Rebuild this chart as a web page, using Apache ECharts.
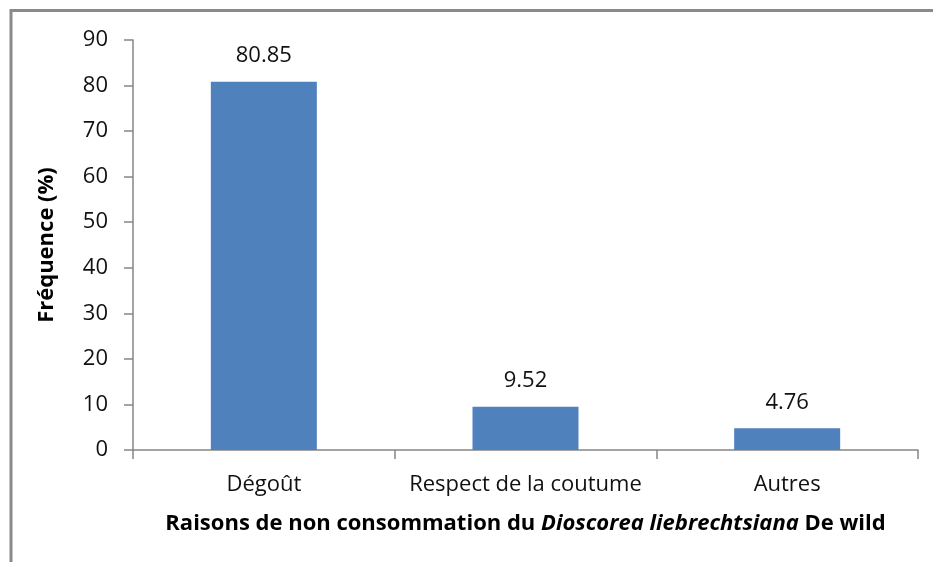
<!DOCTYPE html>
<html>
<head>
<meta charset="utf-8">
<script src="https://cdn.jsdelivr.net/npm/echarts@6/dist/echarts.min.js"></script>
<style>
html,body{margin:0;padding:0;background:#fff;}
#chart{width:933px;height:562px;}
</style>
</head>
<body>
<div id="chart"></div>
<script>
const categories = ['Dégoût', 'Respect de la coutume', 'Autres'];
const frequencies = [80.85, 9.52, 4.76];
const yTicks = [0, 10, 20, 30, 40, 50, 60, 70, 80, 90];

const chart = echarts.init(document.getElementById('chart'), null, {renderer: 'canvas'});
const font = 'Open Sans';
chart.setOption({
  animation: false,
  backgroundColor: '#fff',
  graphic: [{
    type: 'polyline',
    shape: {points: [[11, 562], [11, 10.5], [933, 10.5]]},
    style: {stroke: '#8a8a8a', lineWidth: 3, fill: null}
  }],
  grid: {left: 133, right: 15, top: 40, bottom: 112, containLabel: false},
  xAxis: {
    type: 'category',
    data: categories,
    axisLine: {lineStyle: {color: '#868686', width: 1.5}},
    axisTick: {show: true, length: 9, alignWithLabel: false, lineStyle: {color: '#868686', width: 1.5}},
    axisLabel: {color: '#111', fontFamily: font, fontSize: 22, margin: 24, interval: 0, hideOverlap: false},
    name: '{b|Raisons de non consommation du }{i|Dioscorea liebrechtsiana}{b| De wild}',
    nameLocation: 'middle',
    nameGap: 63,
    nameTextStyle: {
      rich: {
        b: {fontFamily: font, fontSize: 22, fontWeight: 'bold', color: '#000'},
        i: {fontFamily: font, fontSize: 22, fontWeight: 'bold', fontStyle: 'italic', color: '#000'}
      }
    }
  },
  yAxis: {
    type: 'value',
    min: 0, max: 90, interval: 10,
    axisLine: {show: true, lineStyle: {color: '#868686', width: 1.5}},
    axisTick: {show: true, length: 9, lineStyle: {color: '#868686', width: 1.5}},
    splitLine: {show: false},
    axisLabel: {color: '#111', fontFamily: font, fontSize: 22, margin: 25,
      formatter: v => yTicks.includes(v) ? String(v) : ''},
    name: 'Fréquence (%)',
    nameLocation: 'middle',
    nameGap: 75,
    nameTextStyle: {fontFamily: font, fontSize: 22, fontWeight: 'bold', color: '#000'}
  },
  series: [{
    type: 'bar',
    data: frequencies,
    barWidth: 106,
    itemStyle: {color: '#4F81BD'},
    label: {show: true, position: 'top', distance: 15, color: '#111',
      fontFamily: font, fontSize: 22, formatter: p => p.value.toFixed(2)}
  }]
});
</script>
</body>
</html>
